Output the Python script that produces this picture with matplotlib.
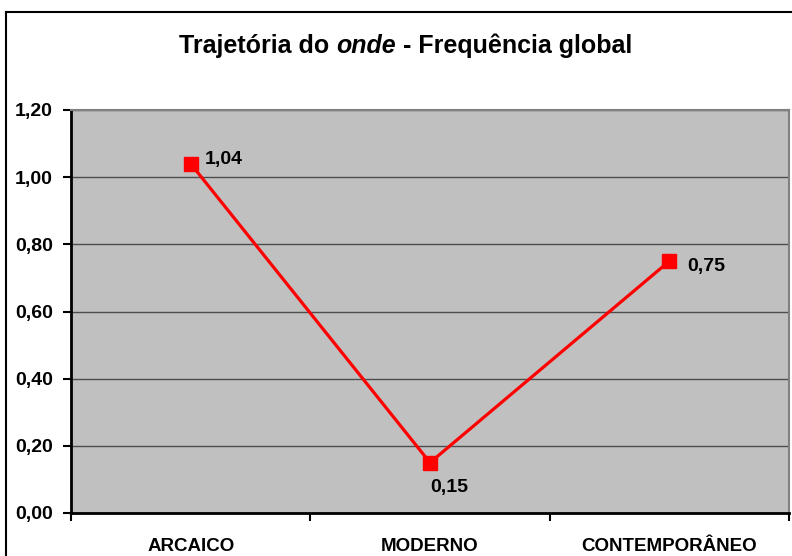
import matplotlib
matplotlib.use("Agg")
import matplotlib.pyplot as plt
from matplotlib.lines import Line2D
from matplotlib.offsetbox import TextArea, HPacker, AnchoredOffsetbox

categories = ["ARCAICO", "MODERNO", "CONTEMPORÂNEO"]
values = [1.04, 0.15, 0.75]
value_labels = ["1,04", "0,15", "0,75"]
yticks = [0.0, 0.2, 0.4, 0.6, 0.8, 1.0, 1.2]
ytick_labels = ["0,00", "0,20", "0,40", "0,60", "0,80", "1,00", "1,20"]

plt.rcParams['font.family'] = ['Liberation Sans', 'DejaVu Sans']

W, H = 792, 556
fig = plt.figure(figsize=(W / 100, H / 100), dpi=100)
fig.patch.set_facecolor("white")

# outer chart border (left and top visible, rest cut off)
fig.add_artist(Line2D([6 / W, 6 / W], [0, 1 - 12 / H], transform=fig.transFigure, color="black", lw=1.5))
fig.add_artist(Line2D([6 / W, 1], [1 - 12 / H, 1 - 12 / H], transform=fig.transFigure, color="black", lw=1.5))

ax = fig.add_axes([71 / W, 43 / H, (789 - 71) / W, (513 - 110) / H])
ax.set_facecolor("#C0C0C0")

x = list(range(len(categories)))
ax.plot(x, values, color="#FF0000", lw=2.3, marker="s", markersize=10,
        markerfacecolor="#FF0000", markeredgecolor="#FF0000", zorder=3, clip_on=False)

ax.set_xlim(-0.5, len(categories) - 0.5)
ax.set_ylim(0, 1.2)
ax.set_yticks(yticks)
ax.set_yticklabels(ytick_labels, fontsize=14, fontweight="bold")
ax.yaxis.grid(True, color="#4d4d4d", lw=1)
ax.set_axisbelow(True)

# category ticks at boundaries, labels at centers
ax.set_xticks([i - 0.5 for i in range(len(categories) + 1)])
ax.set_xticklabels([])
ax.set_xticks(x, minor=True)
ax.set_xticklabels(categories, minor=True, fontsize=13.5, fontweight="bold")
ax.tick_params(axis="x", which="minor", length=0, pad=18)
ax.tick_params(axis="x", which="major", length=6, width=1.5, direction="out")
ax.tick_params(axis="y", length=6, width=1.5, direction="out", pad=7)

for s in ["left", "bottom"]:
    ax.spines[s].set_color("black")
    ax.spines[s].set_linewidth(2)
for s in ["top", "right"]:
    ax.spines[s].set_color("#808080")
    ax.spines[s].set_linewidth(1.5)

offsets = [(10, 3), (0, -12), (13, -4)]
has = ["left", "left", "left"]
vas = ["center", "top", "center"]
for xi, v, lab, off, ha, va in zip(x, values, value_labels, offsets, has, vas):
    ax.annotate(lab, (xi, v), xytext=off, textcoords="offset points",
                ha=ha, va=va, fontsize=14, fontweight="bold", color="black")

# title built from pieces so "onde" is italic
parts = [("Trajetória do ", "normal"), ("onde", "italic"), (" - Frequência global", "normal")]
areas = [TextArea(s, textprops=dict(fontsize=18, fontweight="bold", fontstyle=st)) for s, st in parts]
box = HPacker(children=areas, align="baseline", pad=0, sep=0)
anch = AnchoredOffsetbox(loc="center", child=box, frameon=False,
                         bbox_to_anchor=(406 / W, 1 - 46 / H), bbox_transform=fig.transFigure,
                         borderpad=0, pad=0)
fig.add_artist(anch)

fig.savefig("out.png", dpi=100, facecolor="white")
